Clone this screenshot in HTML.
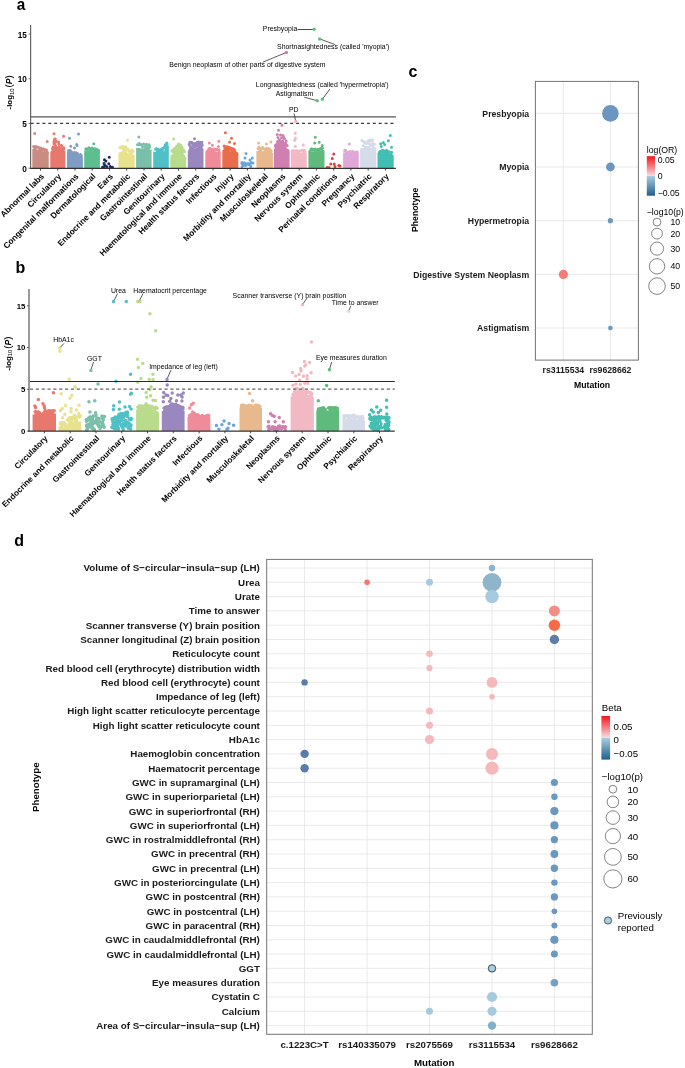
<!DOCTYPE html>
<html><head><meta charset="utf-8"><style>
html,body{margin:0;padding:0;background:#fff;}
svg{display:block;font-family:"Liberation Sans",sans-serif;will-change:transform;}
</style></head><body>
<svg width="685" height="1068" viewBox="0 0 685 1068">
<rect width="685" height="1068" fill="#fff"/>

<text transform="translate(16.7 10.1) scale(0.9 1)" font-size="17" font-weight="bold">a</text>
<path d="M32.3 168.3L32.3 148.9L33.3 148.9L34.3 149L35.3 149.1L36.3 149.2L37.3 149.4L38.3 149.7L39.3 150L40.3 150.5L41.3 150.9L42.3 151.3L43.3 151.4L44.3 151.6L45.3 151.8L46.3 152L47.3 152.2L48.3 152.4L48.7 152.4L48.7 168.3Z" fill="#c98b82"/>
<path d="M39.8 148.7h0M46.4 150.1h0M40.6 149.1h0M36.1 147.4h0M42.3 150.6h0M34.9 146.7h0M34.9 148.4h0M43.2 148.7h0M47.2 152.3h0M42.6 149.9h0M35.8 146.4h0M40.9 148h0M36.2 146.7h0M34 147.1h0M39.7 149.7h0M40.8 149.4h0M40.5 149.3h0M39.9 147.9h0M47.4 152.5h0M45.2 150.7h0M38 147.2h0M37.6 146.9h0M44.2 149.5h0M45.3 149.7h0M46.8 151.7h0M33.6 146.5h0M46.2 150.1h0M34.7 133.4h0M47.2 141.6h0" stroke="#c98b82" stroke-width="3" stroke-linecap="round" fill="none"/>
<path d="M50.3 168.3L50.3 151.7L51.3 151.3L52.3 150.8L53.3 148.7L54.3 143L55.3 142.2L56.3 143.9L57.3 146.7L58.3 144.5L59.3 145.1L60.3 146.4L61.3 148.2L62.3 149.5L63.3 149.8L64.3 150.4L65.3 150.9L65.4 150.9L65.4 168.3Z" fill="#e8776d"/>
<path d="M63.9 147.7h0M52.5 149h0M61.3 145.4h0M52.7 147.9h0M63.7 149h0M53.1 147.1h0M52.9 147.3h0M61.6 145.6h0M58.6 141.9h0M54 143.7h0M53.2 147.5h0M53.1 147.7h0M54.3 140.4h0M63.7 149.3h0M55.4 141.8h0M54.2 140.9h0M62.3 147.9h0M52.9 150.7h0M54.3 140.4h0M61.3 145.4h0M55.3 139h0M52.7 148.7h0M54.6 140.2h0M56.2 141.3h0M63.6 147.8h0M58.8 144h0M53.9 142.3h0M63 149h0M54.7 139h0M54 133.8h0M63.6 136.3h0" stroke="#e8776d" stroke-width="3" stroke-linecap="round" fill="none"/>
<path d="M67 168.3L67 152.4L68 152.5L69 152.6L70 152.7L71 152.8L72 152.9L73 154.8L74 154.8L75 154.8L76 154.8L77 154.8L78 154.8L79 156.5L80 156.5L81 156.5L82 156.5L82.9 156.5L82.9 168.3Z" fill="#7f9dc2"/>
<path d="M78.1 155.1h0M70.9 152.9h0M80 155.4h0M73.9 152.7h0M68.8 152.7h0M71.5 152h0M71.7 152.5h0M76.2 152.9h0M70.6 152h0M69.2 150.6h0M75.7 154.5h0M76.5 152.9h0M80.5 154.5h0M68.5 150.6h0M74.2 152.6h0M70.6 151h0M75.9 152.7h0M73.1 154.7h0M81.3 155.5h0M77.5 153.6h0M70.2 150.5h0M68.5 152.5h0M69.5 138.2h0M78.5 134h0M70.8 146.3h0M76.7 144.5h0M74.5 148h0M77 145.5h0" stroke="#7f9dc2" stroke-width="3" stroke-linecap="round" fill="none"/>
<path d="M84.2 168.3L84.2 150.4L85.2 150.4L86.2 150.4L87.2 150.4L88.2 150.4L89.2 150.4L90.2 150.4L91.2 150.5L92.2 150.6L93.2 150.7L94.2 150.8L95.2 150.9L96.2 150.8L97.2 150.7L98.2 150.6L99.2 150.5L99.9 150.4L99.9 168.3Z" fill="#5dbf8f"/>
<path d="M94.7 151h0M85.8 149.1h0M91.8 149.6h0M89.7 150.7h0M86.5 148.8h0M95.2 150.7h0M95.2 149.8h0M95.9 150.7h0M90.1 149.3h0M97.3 150.3h0M91 149.8h0M96.8 149.2h0M93.7 148.7h0M93.1 149.3h0M86.6 149.1h0M98.5 150.3h0M95 148.8h0M95.1 149.4h0M91.3 150.1h0M86.6 149.5h0M85.9 149h0M91.8 148.1h0M94.6 149.1h0M93.5 150.7h0M88.9 147.7h0M89.4 149.3h0M93.8 143.8h0" stroke="#5dbf8f" stroke-width="3" stroke-linecap="round" fill="none"/>
<path d="M104.5 159.7h0M109.3 157.2h0M105.2 165.5h0M108.8 163.8h0M110.3 166.4h0M112.5 167.2h0M103.7 166.8h0M105.9 160.9h0M107 167.2h0M102.5 167.2h0M111 167.2h0M106.5 166.5h0M104 163.5h0" stroke="#1d2a5e" stroke-width="3" stroke-linecap="round" fill="none"/>
<path d="M118.4 168.3L118.4 152.6L119.4 152.4L120.4 152L121.4 151.5L122.4 151.1L123.4 150.9L124.4 151.1L125.4 151.3L126.4 151.8L127.4 152.6L128.4 153.5L129.4 154.4L130.4 154.8L131.4 154.6L132.4 154.4L133.4 154.5L134.4 154.9L134.7 154.9L134.7 168.3Z" fill="#e8e28e"/>
<path d="M122.5 146.6h0M132.1 152.2h0M125.8 150.8h0M124.2 148.8h0M122.4 147.6h0M130.7 154.3h0M131.8 150.8h0M127.7 148.9h0M121.6 148.3h0M131.2 153.7h0M129.4 154.3h0M123.5 146.4h0M125.9 147.2h0M122.6 147.4h0M128.3 150.2h0M124 150h0M133.2 151h0M120.7 147.1h0M131.7 149.9h0M129.4 151.6h0M123.9 149.6h0M120 147.6h0M125.9 146.7h0M127.5 140.3h0" stroke="#e8e28e" stroke-width="3" stroke-linecap="round" fill="none"/>
<path d="M136.1 168.3L136.1 147.9L137.1 148L138.1 148.1L139.1 148.1L140.1 148.2L141.1 148.3L142.1 148.4L143.1 148.4L144.1 148.5L145.1 148.7L146.1 148.8L147.1 149L148.1 149.2L149.1 149.3L150.1 149.5L151.1 149.6L151.6 149.7L151.6 168.3Z" fill="#79bfa9"/>
<path d="M148.1 144.9h0M139.2 143.5h0M145.5 145.3h0M145.5 146.5h0M147.8 149.1h0M146.2 144.5h0M143.5 144h0M137.5 144.7h0M146.6 144.5h0M140.9 144.4h0M146.4 145.8h0M145.3 147.1h0M142.5 147h0M149.1 144.7h0M149.4 147.5h0M139.1 144.7h0M145.5 148.3h0M142.3 145.6h0M148.7 148h0M149.6 146h0M145.8 144.4h0M146.7 147.8h0M145.7 146.9h0M138.8 137.1h0" stroke="#79bfa9" stroke-width="3" stroke-linecap="round" fill="none"/>
<path d="M153.2 168.3L153.2 151.6L154.2 151.7L155.2 151.9L156.2 152.1L157.2 152.3L158.2 152.5L159.2 152.8L160.2 153.1L161.2 153.1L162.2 152.3L163.2 151.5L164.2 150.5L165.2 148.5L166.2 146.8L167.2 146.3L168.2 145.8L168.8 145.7L168.8 168.3Z" fill="#4fc1c6"/>
<path d="M157.3 151.9h0M167.2 146.4h0M161.5 151.9h0M158.7 152.3h0M165.6 144.6h0M155.6 149.3h0M161.7 151.6h0M160.8 149.6h0M165 145.2h0M164.9 145.6h0M158.9 151.6h0M156.3 148.6h0M161.2 151.7h0M165.4 146.5h0M166.8 144h0M166.8 142.9h0M157.4 149.9h0M158.3 151.1h0M162.8 149.5h0M165.5 145.8h0M158.6 149.6h0M165.5 147.6h0M157.2 151.6h0M167.1 144h0M161.9 149.1h0M161.5 150.5h0M162.4 148.5h0M167.1 144h0M159.7 152h0M161.8 150.1h0M163.5 147.7h0M161.5 150.1h0M166.9 146.2h0M158 149.8h0M156.2 149.3h0" stroke="#4fc1c6" stroke-width="3" stroke-linecap="round" fill="none"/>
<path d="M170.3 168.3L170.3 155.7L171.3 155L172.3 154.1L173.3 153.1L174.3 152.2L175.3 151.2L176.3 149.8L177.3 148.5L178.3 147.6L179.3 147.8L180.3 148L181.3 148.8L182.3 151.2L183.3 153.3L184.3 154.8L185.3 156.3L186.3 157.4L186.3 157.4L186.3 168.3Z" fill="#b9dc8c"/>
<path d="M182.5 151.4h0M178 144.4h0M174.2 150.4h0M184 150.8h0M182 146.9h0M174.2 149h0M180.8 144.9h0M176.4 147.8h0M173 152.1h0M173.2 150.8h0M175 148.2h0M178.7 144.9h0M176.6 146.6h0M178.7 144.1h0M174.3 150.3h0M180.2 145.6h0M183 150.9h0M183.1 149.7h0M181.5 148.5h0M183.7 150.8h0M175.8 150.3h0M174.5 152.3h0M183.5 150.1h0M174.8 150.4h0M175.1 147.9h0M182.8 149.5h0M182.2 147.4h0M177 147.3h0M171.8 151h0M180.7 147.8h0M184.6 151.7h0M178.4 146.4h0M178.3 146h0M174.1 148.7h0M173 149.7h0M179 145.3h0M173.6 139.1h0" stroke="#b9dc8c" stroke-width="3" stroke-linecap="round" fill="none"/>
<path d="M187.8 168.3L187.8 151.4L188.8 149.2L189.8 146.5L190.8 146.3L191.8 146.8L192.8 147.3L193.8 147.9L194.8 148.4L195.8 148L196.8 147.4L197.8 146.8L198.8 146.7L199.8 146.8L200.8 146.8L201.8 146.9L202.8 148L203.5 148.9L203.5 168.3Z" fill="#9a87bf"/>
<path d="M196.6 143.1h0M191.5 142.3h0M200.1 147h0M201.2 142.3h0M189.9 146h0M195.2 146.9h0M193.4 144.3h0M195.9 144.5h0M197 142.6h0M198.3 145.8h0M191.5 143.2h0M198.8 143.1h0M191.7 142.3h0M195.8 143.3h0M200.8 145.6h0M198.3 145.9h0M197.3 143.5h0M197 144.2h0M202 145.7h0M192.5 146.7h0M198.9 145.3h0M199.8 143.2h0M200.8 146.2h0M198.2 145.2h0M199.1 143.1h0M198.6 142.1h0M193.6 144.4h0M189.2 144.2h0M197.5 144.6h0M192.1 146.8h0M197.8 142.9h0M197.7 144.1h0M196.1 144.2h0M202.2 144.8h0M198.3 145.2h0M201.9 142.2h0M197.2 145.5h0M192.5 143.5h0M189.8 142.2h0M194 143.4h0M192.4 146.6h0M196.3 144.6h0M201.8 144.1h0M202.1 144.7h0M194.5 138.7h0" stroke="#9a87bf" stroke-width="3" stroke-linecap="round" fill="none"/>
<path d="M205.3 168.3L205.3 151.4L206.3 151.4L207.3 151.3L208.3 151.3L209.3 151.2L210.3 151.2L211.3 151.4L212.3 151.5L213.3 151.7L214.3 151.8L215.3 151.9L216.3 152L217.3 152.1L218.3 152.2L219.3 152.3L220.3 152.4L220.7 152.4L220.7 168.3Z" fill="#f08c9a"/>
<path d="M217 149.4h0M214.2 151h0M207.2 151.3h0M208.6 149.4h0M208.8 149.5h0M214.4 149.1h0M218.7 150.2h0M213.3 150.2h0M211.3 149h0M215 150.3h0M210.2 150.2h0M210.4 148.6h0M209.7 148.5h0M208.6 150.4h0M211.6 151.2h0M216.2 149.3h0M219.3 152.3h0M207.5 151.1h0M212.1 149.6h0M219.1 149.8h0M213.3 151.6h0M215.9 150.1h0M219.1 151.7h0M214.3 149.2h0M214.6 149.9h0M209.2 148.6h0M209.3 143h0M212.4 145.3h0M218.8 141.2h0M218.4 146.5h0" stroke="#f08c9a" stroke-width="3" stroke-linecap="round" fill="none"/>
<path d="M222.3 168.3L222.3 150.4L223.3 149.8L224.3 149.3L225.3 149.3L226.3 149.3L227.3 149.3L228.3 149.6L229.3 150.5L230.3 151.2L231.3 151.5L232.3 151.8L233.3 152.1L234.3 152.4L235.3 152.9L236.3 153.3L237.3 153.7L238.3 154L238.3 154L238.3 168.3Z" fill="#e96d4a"/>
<path d="M230.7 148.2h0M229.5 149.2h0M229.7 148h0M231.4 149.1h0M234 150.3h0M237 153.6h0M233.4 149.2h0M225.1 149h0M234.1 150.7h0M228.4 146.9h0M232.8 150.1h0M231.5 150h0M233.7 149.2h0M226.9 149.5h0M235.9 152.7h0M224.1 146.1h0M227.2 146.9h0M232 148.6h0M230.9 148.2h0M224.8 147.9h0M231 149.8h0M228.6 147.6h0M226.4 146.7h0M233.6 151.6h0M224.6 146.2h0M234.4 150.9h0M233.9 149.3h0M229.3 147.6h0M234.5 149.9h0M232.4 152h0M228 147.4h0M225.4 132.7h0M231.5 138.3h0M229.6 142h0M234.5 143.5h0" stroke="#e96d4a" stroke-width="3" stroke-linecap="round" fill="none"/>
<path d="M250.8 166.6h0M246.5 163.8h0M242.1 166.4h0M241.9 162.4h0M248.4 164.4h0M250 163.5h0M251.2 162.4h0M243.7 165.3h0M241.9 163.5h0M250.5 165.5h0M244.6 162.7h0M245.6 165.6h0M246 153.5h0M245 158.1h0M252.3 158.1h0M250 160.1h0M243 163h0M248 163.5h0M253 163h0" stroke="#6aa4dc" stroke-width="3" stroke-linecap="round" fill="none"/>
<path d="M256.4 168.3L256.4 150.9L257.4 150.9L258.4 150.9L259.4 150.9L260.4 150.9L261.4 150.9L262.4 151L263.4 151.3L264.4 151.5L265.4 151.5L266.4 151.5L267.4 151.7L268.4 152.1L269.4 152.5L270.4 152.7L271.4 152.7L272.4 152.7L272.9 152.7L272.9 168.3Z" fill="#e8b98c"/>
<path d="M262.8 147.5h0M267.6 149.6h0M270.5 152.6h0M270.4 150h0M268.9 149.1h0M262.1 148.1h0M270.7 152.3h0M261.2 147.9h0M262.8 148.1h0M263.2 148.4h0M260.4 148.7h0M268.8 149.9h0M269.3 150.2h0M260.2 149.7h0M269.9 149.4h0M258 148.5h0M265.3 149.3h0M271.1 150.9h0M268.9 148.6h0M265.3 150.5h0M258.9 147.3h0M267.9 151.5h0M258.9 149h0M259.7 149.6h0M266.7 148.2h0M260.8 149.7h0M264.9 150.3h0M263.2 148.2h0M271.2 151h0M264.6 149.2h0M267.7 150.3h0M270.4 149.9h0M269.2 150.7h0M269.6 151.6h0M269.3 152h0M271 150.9h0M265 150h0M258.6 143.1h0M266.5 143.9h0M271 141.9h0" stroke="#e8b98c" stroke-width="3" stroke-linecap="round" fill="none"/>
<path d="M273.9 168.3L273.9 148.9L274.9 148.7L275.9 148.4L276.9 147.7L277.9 146.8L278.9 146L279.9 145.8L280.9 145.6L281.9 145.4L282.9 145.8L283.9 146.3L284.9 146.8L285.9 147.6L286.9 148.3L287.9 148.9L288.9 149.5L289.6 149.9L289.6 168.3Z" fill="#cf7fb0"/>
<path d="M285.7 144.7h0M280.7 142.1h0M284.9 147.1h0M280.1 142.2h0M277.9 144.1h0M279 146h0M276 145.2h0M276.7 146h0M285.4 143.7h0M276 145.7h0M282.9 145.5h0M275.7 144.9h0M277.6 143.7h0M278.3 145.1h0M283 142.5h0M277.6 143.8h0M277.5 146h0M279.3 143.6h0M285.9 145h0M278.6 145.8h0M287.2 145.5h0M282.4 145.6h0M281.5 142.1h0M275.9 148.4h0M285.7 144.5h0M282.1 143.1h0M278.8 146.3h0M283.8 143h0M275.3 146h0M280.1 144.7h0M284.5 144.7h0M277.3 143.8h0M279.4 142.5h0M286.6 145.7h0M283.5 146.4h0M282 125.2h0M278.5 130.3h0M277.3 134.4h0M278 137.5h0M280.5 135h0M283 135.5h0M281.5 138h0M279.3 140h0M284.5 138.8h0M286.2 141h0M277.5 141.5h0M282.5 141h0M280 142.5h0M285.5 143h0M283.5 137h0" stroke="#cf7fb0" stroke-width="3" stroke-linecap="round" fill="none"/>
<path d="M290.8 168.3L290.8 152.4L291.8 152.4L292.8 152.4L293.8 152.4L294.8 152.4L295.8 152.4L296.8 152.4L297.8 152.4L298.8 152.4L299.8 152.4L300.8 152.4L301.8 152.4L302.8 152.4L303.8 152.4L304.8 152.4L305.8 152.4L306.8 152.4L306.8 168.3Z" fill="#f2b9c4"/>
<path d="M295.7 151.1h0M294.1 151.8h0M292.1 152h0M303.4 152h0M293.2 150.5h0M301.7 150.2h0M298.5 150.9h0M304.9 151.2h0M303.6 150.5h0M302.7 150.8h0M304.4 150.2h0M303.2 150.4h0M299.4 151h0M294.2 152h0M296.3 150.5h0M293.1 150.5h0M298.4 151.6h0M296.9 151.5h0M293.5 150.7h0M298.3 152.6h0M303.2 151.4h0M292.3 150.7h0M295.3 133.2h0M295.5 137.9h0M294.6 140.2h0M295.3 146.6h0M303.3 145.1h0" stroke="#f2b9c4" stroke-width="3" stroke-linecap="round" fill="none"/>
<path d="M308.4 168.3L308.4 151.2L309.4 151.2L310.4 151.2L311.4 151.2L312.4 151.2L313.4 151.2L314.4 151.2L315.4 151.2L316.4 151.2L317.4 151.2L318.4 151.2L319.4 151.2L320.4 150.8L321.4 149.9L322.4 149.6L323.4 150L324.4 150.4L324.5 150.4L324.5 168.3Z" fill="#5fba7d"/>
<path d="M319.3 149.2h0M317.3 149.7h0M309.8 151.5h0M320.5 148.7h0M318 149.3h0M314.8 149.9h0M313.7 149.4h0M315 150.3h0M313.2 149.2h0M319.6 149.4h0M322.5 148.3h0M319.5 149.4h0M320.9 148.3h0M311.6 149h0M318.8 150.4h0M312.1 149.5h0M321 149.1h0M310.9 149.2h0M311.8 149.1h0M315.2 149h0M322.1 147.8h0M316.6 150.2h0M315.3 137.3h0M314.8 143.1h0M319.2 142.3h0M322.3 145.4h0" stroke="#5fba7d" stroke-width="3" stroke-linecap="round" fill="none"/>
<path d="M333.8 153.9h0M332.3 158.4h0M330.8 164.1h0M334.2 163.9h0M338.8 165.5h0M327 167.4h0M335 166.5h0M340 166h0M329 167.4h0" stroke="#d9443a" stroke-width="3" stroke-linecap="round" fill="none"/>
<path d="M343.1 168.3L343.1 152.6L344.1 152.6L345.1 152.6L346.1 152.6L347.1 152.7L348.1 154.1L349.1 154.1L350.1 154.1L351.1 154.1L352.1 154.1L353.1 153.6L354.1 153.6L355.1 153.6L356.1 153.6L357.1 153.6L358.1 153.6L358.8 153.6L358.8 168.3Z" fill="#e0a8d8"/>
<path d="M354.4 153h0M349.5 151.9h0M349.8 151.4h0M349.6 153h0M357.3 152.9h0M353 152.2h0M344.6 150.4h0M348.9 152.8h0M345.8 150.5h0M351.1 153.4h0M355.2 152.2h0M346.5 151.8h0M356.2 152h0M349 152.3h0M346.3 151.6h0M357.3 151.9h0M353.8 153.1h0M347 152.6h0M352.6 151.3h0M345.5 150.2h0M352 153h0M348.7 154h0M349.1 152.2h0M346 152.8h0M346.2 152.4h0M351.5 152.5h0M349.3 143.9h0" stroke="#e0a8d8" stroke-width="3" stroke-linecap="round" fill="none"/>
<path d="M360.1 168.3L360.1 148.4L361.1 148.3L362.1 148.1L363.1 147.9L364.1 147.7L365.1 147.9L366.1 148.1L367.1 148.2L368.1 148.4L369.1 148.3L370.1 148.1L371.1 148L372.1 147.9L373.1 148.3L374.1 148.7L375.1 149.1L376.1 149.4L376.3 149.4L376.3 168.3Z" fill="#d5dbe8"/>
<path d="M369 141h0M373.8 148.7h0M372.5 143.5h0M363.1 145.8h0M365.3 146.8h0M364.7 142.9h0M372.7 140.4h0M368.9 140.2h0M361.8 140.4h0M374.8 148.4h0M370.4 141.1h0M370.5 145h0M366.6 143.4h0M372.3 139.8h0M364.1 141.9h0M363.3 141.3h0M369.1 140.5h0M368.5 141h0M369.1 141.4h0M370.1 140h0M370.5 140.2h0M374.4 144.2h0M367.8 142h0M369.9 144.5h0M371.7 145h0M368 148.6h0M372.8 146.5h0M367 142.1h0M369.1 147.2h0M368.6 143h0M367.3 147.2h0" stroke="#d5dbe8" stroke-width="3" stroke-linecap="round" fill="none"/>
<path d="M377.5 168.3L377.5 153.1L378.5 153.1L379.5 153.1L380.5 153.1L381.5 153.1L382.5 153.1L383.5 153.1L384.5 153.1L385.5 153.1L386.5 153.1L387.5 153.1L388.5 153.5L389.5 154.5L390.5 154.9L391.5 155L392.5 155.1L393.5 155.2L393.7 155.2L393.7 168.3Z" fill="#40bfb2"/>
<path d="M383.2 150.4h0M388.7 153.5h0M388.8 152.3h0M389 151.7h0M386.9 150.4h0M380.5 151.2h0M385.6 151h0M379.5 152h0M386 150.7h0M383 151h0M382 150.4h0M391.2 155.1h0M387.9 152.8h0M384.5 152.5h0M381.8 152.2h0M386.5 152.9h0M380.1 152.4h0M380.5 151.4h0M391.7 152.3h0M382.1 150.8h0M383.2 150.4h0M391 154.4h0M384.2 150.9h0M386.8 150.4h0M379.2 152.9h0M383 151.3h0M391.5 155.2h0M390.3 135.5h0M388.4 140.8h0M383.4 142.4h0M380.7 143.7h0M381.3 146.6h0M391.5 147.3h0M384.6 144.5h0" stroke="#40bfb2" stroke-width="3" stroke-linecap="round" fill="none"/>
<line x1="30.6" y1="24.9" x2="30.6" y2="168.9" stroke="#666" stroke-width="1.2"/>
<line x1="30" y1="168.4" x2="395.9" y2="168.4" stroke="#333" stroke-width="1.1"/>
<line x1="30.6" y1="116.8" x2="395.9" y2="116.8" stroke="#555" stroke-width="1.3"/>
<line x1="30.6" y1="123.4" x2="395.9" y2="123.4" stroke="#3a3a3a" stroke-width="1.2" stroke-dasharray="3 2.9"/>
<line x1="28.5" y1="34.1" x2="30.6" y2="34.1" stroke="#666" stroke-width="0.9"/>
<text x="26.8" y="37.5" font-size="8.2" font-weight="bold" text-anchor="end" fill="#000">15</text>
<line x1="28.5" y1="78.8" x2="30.6" y2="78.8" stroke="#666" stroke-width="0.9"/>
<text x="26.8" y="82.2" font-size="8.2" font-weight="bold" text-anchor="end" fill="#000">10</text>
<line x1="28.5" y1="123.5" x2="30.6" y2="123.5" stroke="#666" stroke-width="0.9"/>
<text x="26.8" y="126.9" font-size="8.2" font-weight="bold" text-anchor="end" fill="#000">5</text>
<line x1="28.5" y1="168.2" x2="30.6" y2="168.2" stroke="#666" stroke-width="0.9"/>
<text x="26.8" y="171.6" font-size="8.2" font-weight="bold" text-anchor="end" fill="#000">0</text>
<text transform="translate(12.1 92.4) rotate(-90)" font-size="7.9" text-anchor="middle"><tspan font-weight="bold">-log</tspan><tspan font-size="5.8" dy="1.6">10</tspan><tspan dy="-1.6" dx="1" font-size="9.8">(</tspan><tspan font-style="italic" font-weight="bold" font-size="8.6">P</tspan><tspan font-size="9.8">)</tspan></text>
<line x1="40.5" y1="168.4" x2="40.5" y2="170.6" stroke="#333" stroke-width="0.9"/>
<text transform="translate(44.5 176.9) rotate(-45)" font-size="8.3" font-weight="bold" text-anchor="end">Abnormal labs</text>
<line x1="57.7" y1="168.4" x2="57.7" y2="170.6" stroke="#333" stroke-width="0.9"/>
<text transform="translate(61.7 176.9) rotate(-45)" font-size="8.3" font-weight="bold" text-anchor="end">Circulatory</text>
<line x1="75" y1="168.4" x2="75" y2="170.6" stroke="#333" stroke-width="0.9"/>
<text transform="translate(79 176.9) rotate(-45)" font-size="8.3" font-weight="bold" text-anchor="end">Congenital malformations</text>
<line x1="92.2" y1="168.4" x2="92.2" y2="170.6" stroke="#333" stroke-width="0.9"/>
<text transform="translate(96.2 176.9) rotate(-45)" font-size="8.3" font-weight="bold" text-anchor="end">Dermatological</text>
<line x1="109.5" y1="168.4" x2="109.5" y2="170.6" stroke="#333" stroke-width="0.9"/>
<text transform="translate(113.5 176.9) rotate(-45)" font-size="8.3" font-weight="bold" text-anchor="end">Ears</text>
<line x1="126.7" y1="168.4" x2="126.7" y2="170.6" stroke="#333" stroke-width="0.9"/>
<text transform="translate(130.7 176.9) rotate(-45)" font-size="8.3" font-weight="bold" text-anchor="end">Endocrine and metabolic</text>
<line x1="144" y1="168.4" x2="144" y2="170.6" stroke="#333" stroke-width="0.9"/>
<text transform="translate(148 176.9) rotate(-45)" font-size="8.3" font-weight="bold" text-anchor="end">Gastrointestinal</text>
<line x1="161.2" y1="168.4" x2="161.2" y2="170.6" stroke="#333" stroke-width="0.9"/>
<text transform="translate(165.2 176.9) rotate(-45)" font-size="8.3" font-weight="bold" text-anchor="end">Genitourinary</text>
<line x1="178.5" y1="168.4" x2="178.5" y2="170.6" stroke="#333" stroke-width="0.9"/>
<text transform="translate(182.5 176.9) rotate(-45)" font-size="8.3" font-weight="bold" text-anchor="end">Haematological and immune</text>
<line x1="195.7" y1="168.4" x2="195.7" y2="170.6" stroke="#333" stroke-width="0.9"/>
<text transform="translate(199.7 176.9) rotate(-45)" font-size="8.3" font-weight="bold" text-anchor="end">Health status factors</text>
<line x1="213" y1="168.4" x2="213" y2="170.6" stroke="#333" stroke-width="0.9"/>
<text transform="translate(217 176.9) rotate(-45)" font-size="8.3" font-weight="bold" text-anchor="end">Infectious</text>
<line x1="230.2" y1="168.4" x2="230.2" y2="170.6" stroke="#333" stroke-width="0.9"/>
<text transform="translate(234.2 176.9) rotate(-45)" font-size="8.3" font-weight="bold" text-anchor="end">Injury</text>
<line x1="247.4" y1="168.4" x2="247.4" y2="170.6" stroke="#333" stroke-width="0.9"/>
<text transform="translate(251.4 176.9) rotate(-45)" font-size="8.3" font-weight="bold" text-anchor="end">Morbidity and mortality</text>
<line x1="264.7" y1="168.4" x2="264.7" y2="170.6" stroke="#333" stroke-width="0.9"/>
<text transform="translate(268.7 176.9) rotate(-45)" font-size="8.3" font-weight="bold" text-anchor="end">Musculoskeletal</text>
<line x1="281.9" y1="168.4" x2="281.9" y2="170.6" stroke="#333" stroke-width="0.9"/>
<text transform="translate(285.9 176.9) rotate(-45)" font-size="8.3" font-weight="bold" text-anchor="end">Neoplasms</text>
<line x1="299.2" y1="168.4" x2="299.2" y2="170.6" stroke="#333" stroke-width="0.9"/>
<text transform="translate(303.2 176.9) rotate(-45)" font-size="8.3" font-weight="bold" text-anchor="end">Nervous system</text>
<line x1="316.4" y1="168.4" x2="316.4" y2="170.6" stroke="#333" stroke-width="0.9"/>
<text transform="translate(320.4 176.9) rotate(-45)" font-size="8.3" font-weight="bold" text-anchor="end">Ophthalmic</text>
<line x1="333.7" y1="168.4" x2="333.7" y2="170.6" stroke="#333" stroke-width="0.9"/>
<text transform="translate(337.7 176.9) rotate(-45)" font-size="8.3" font-weight="bold" text-anchor="end">Perinatal conditions</text>
<line x1="350.9" y1="168.4" x2="350.9" y2="170.6" stroke="#333" stroke-width="0.9"/>
<text transform="translate(354.9 176.9) rotate(-45)" font-size="8.3" font-weight="bold" text-anchor="end">Pregnancy</text>
<line x1="368.2" y1="168.4" x2="368.2" y2="170.6" stroke="#333" stroke-width="0.9"/>
<text transform="translate(372.2 176.9) rotate(-45)" font-size="8.3" font-weight="bold" text-anchor="end">Psychiatric</text>
<line x1="385.4" y1="168.4" x2="385.4" y2="170.6" stroke="#333" stroke-width="0.9"/>
<text transform="translate(389.4 176.9) rotate(-45)" font-size="8.3" font-weight="bold" text-anchor="end">Respiratory</text>
<text x="262.8" y="30.7" font-size="6.9" fill="#000">Presbyopia</text>
<line x1="297.6" y1="29.5" x2="313.5" y2="29.5" stroke="#333" stroke-width="0.9"/>
<text x="277.1" y="48.8" font-size="6.9" fill="#000">Shortnasightedness (called &#39;myopia&#39;)</text>
<line x1="319.7" y1="38.9" x2="335.2" y2="44.6" stroke="#333" stroke-width="0.8"/>
<text x="169.3" y="66.6" font-size="6.9" fill="#000">Benign neoplasm of other parts of digestive system</text>
<line x1="286.4" y1="52.4" x2="262.8" y2="62.2" stroke="#333" stroke-width="0.8"/>
<text x="255.8" y="87.3" font-size="6.9" fill="#000">Longnasightedness (called &#39;hypermetropia&#39;)</text>
<line x1="322.4" y1="99.2" x2="329.9" y2="89" stroke="#333" stroke-width="0.8"/>
<text x="275.7" y="96" font-size="6.9" fill="#000">Astigmatism</text>
<line x1="304.3" y1="97.2" x2="317.2" y2="100.7" stroke="#333" stroke-width="0.8"/>
<text x="288.9" y="112.1" font-size="6.9" fill="#000">PD</text>
<line x1="294" y1="113.5" x2="295.8" y2="121.4" stroke="#333" stroke-width="0.8"/>
<path d="M314.2 29.3h0M319.7 38.9h0M322.4 99.2h0M317.2 100.7h0" stroke="#62c084" stroke-width="3.5" stroke-linecap="round" fill="none"/>
<path d="M286.4 52.4h0" stroke="#d07fb2" stroke-width="3.5" stroke-linecap="round" fill="none"/>
<path d="M295.8 121.4h0" stroke="#f2b3c2" stroke-width="3.5" stroke-linecap="round" fill="none"/>
<text x="15.6" y="272.8" font-size="16" font-weight="bold" fill="#000">b</text>
<path d="M32.6 431.1L32.6 414.6L33.6 414.4L34.6 414.3L35.6 414.1L36.6 414.1L37.6 414.2L38.6 414.4L39.6 414.5L40.6 415.4L41.6 416.1L42.6 416.1L43.6 416.1L44.6 414.6L45.6 413.5L46.6 413.4L47.6 413.3L48.6 413.2L49.6 413.1L50.6 413.1L51.6 413.2L52.6 413.3L53.6 413.4L54.6 413.4L55.6 413.5L56 413.6L56 431.1Z" fill="#e8776d"/>
<path d="M43.7 413.7h0M40.1 414.8h0M52.4 410.8h0M51.2 411.1h0M43.7 413.6h0M52 413.6h0M38.3 413.1h0M38 414.1h0M35.2 411.7h0M48.9 411h0M52.4 413h0M48.6 410.7h0M48.3 413.3h0M43.2 413.5h0M38.7 412.2h0M48.6 410.8h0M37.8 411.9h0M47.6 412.7h0M41.7 414.9h0M52.1 411.9h0M38.8 412.2h0M53 412.2h0M39.8 413.3h0M36 414.4h0M43.1 414.5h0M44.9 411.2h0M46.3 411.2h0M39.2 413.9h0M35.9 411.8h0M49.5 410.8h0M39.8 413h0M37.9 414.2h0M54.2 410.8h0M43.5 415.3h0M42 416.1h0M44.3 412.9h0M45.4 412.3h0M41.5 414.9h0M50 411.4h0M38.4 399.4h0M34.9 406h0M35.5 407.6h0M43 403.8h0M44.2 406h0M44.6 408.2h0M53.4 392.7h0" stroke="#e8776d" stroke-width="3.5" stroke-linecap="round" fill="none"/>
<path d="M58.4 431.1L58.4 427.1L59.4 427L60.4 426.9L61.4 426.9L62.4 426.8L63.4 426.7L64.4 426.7L65.4 426.6L66.4 425.8L67.4 423.8L68.4 422.5L69.4 422.2L70.4 422L71.4 421.8L72.4 421.6L73.4 421.4L74.4 421.2L75.4 421.1L76.4 421.2L77.4 421.2L78.4 421.3L79.4 421.4L80.4 421.5L81.4 421.6L81.4 431.1Z" fill="#e8e28e"/>
<path d="M70 421.3h0M73.6 418.4h0M78.9 417h0M75.5 416.7h0M72.1 417.5h0M68.7 421h0M75.6 419.9h0M64.6 423.5h0M64.4 424h0M69.9 417.6h0M71.8 420h0M71.3 421.2h0M63.5 422.3h0M60.3 423.8h0M68.6 419.1h0M65.2 425.4h0M61.4 426.5h0M71.3 419h0M75.7 416.9h0M62.9 422.8h0M60.8 423h0M72.3 418.7h0M65.2 424h0M61.7 425.8h0M63.4 422.6h0M63.1 424.8h0M76.5 419.9h0M61.2 423.4h0M67.2 419.9h0M79.3 416.8h0M69.7 420.7h0M79.6 417h0M69 420.8h0M60.7 422.7h0M77.7 416.8h0M59.8 348h0M59.9 351.2h0M69.2 379.3h0M75 386.4h0M75.3 387.2h0M60.4 410.4h0M62.2 408.6h0M65.5 405.6h0M61.1 393.8h0M71.8 395.3h0M70 398.3h0M71.1 408.6h0M71.1 411.7h0M76.3 410h0M79 405.3h0M64.8 414.3h0M62.6 417.8h0M78.8 413.5h0M74.4 415.2h0M80.5 416.1h0" stroke="#e8e28e" stroke-width="3.5" stroke-linecap="round" fill="none"/>
<path d="M93.2 423.4h0M93.8 421.3h0M86.6 430h0M100 428.5h0M90.2 424.4h0M96.1 423.1h0M94.4 429.4h0M92.6 424.2h0M104 426.7h0M86.7 426.5h0M97.9 424.4h0M92.3 427.6h0M101.9 426.6h0M102.3 425.5h0M93.2 428.6h0M93 428h0M89.9 425.2h0M89.3 426.7h0M89 424.1h0M89.9 426.1h0M91.6 425.9h0M104.2 427.3h0M101.8 423.3h0M93 421.2h0M98.7 426.2h0M91 422.7h0M89.3 424.5h0M93.2 429.3h0M99.1 425.7h0M92.6 422.7h0M103.2 424.6h0M100 428.4h0M102.6 421.7h0M91.9 425.4h0M87.5 429.3h0M91.9 428.3h0M95.5 421.1h0M93.2 422.8h0M86.7 425h0M96.9 418.1h0M91.7 418.3h0M96 415.2h0M99 419.1h0M99.3 421.5h0M88.7 417.9h0M91.1 420.3h0M93.4 416.1h0M101.9 416.4h0M91.3 417.9h0M89.9 417h0M86.4 421.2h0M96.4 420.4h0M103.9 416.7h0M98.3 423.6h0M89.9 420.1h0M98.2 424h0M101.9 416.5h0M97.6 418.5h0M93.8 416.2h0M87.1 419.6h0M92 418.8h0M91.1 417.2h0M93.4 416.6h0M89 420h0M90.4 417.1h0M92.2 417.9h0M88.7 419.8h0M98.9 420.6h0M98.8 418.5h0M93.2 416h0M87.1 419.7h0M87 420.3h0M96.7 419.2h0M91.9 417.5h0M86.4 419.4h0M102.4 418.2h0M90.8 420h0M89.4 418.6h0M97.3 424h0M92.6 418.1h0M103.3 419.8h0M90.9 370.6h0M98 384h0M88.9 401.8h0M94.8 400.8h0M90 412.1h0M95.6 412.8h0M102 416.1h0M104.5 416.5h0" stroke="#79bfa9" stroke-width="3.5" stroke-linecap="round" fill="none"/>
<path d="M124.1 425.8h0M119.8 423.6h0M117.2 428.8h0M129.1 426.3h0M129.7 424.3h0M114.4 426.8h0M117.8 425.3h0M131 424.9h0M115.5 424.3h0M125.1 420.5h0M111.8 427.3h0M119.5 421.7h0M121.5 426.2h0M122.5 425.9h0M122.8 428.2h0M130.8 426.1h0M118.6 429h0M117.9 427.9h0M125.4 426.1h0M130.7 429h0M114.9 427.3h0M121.4 425.3h0M119 422.2h0M126.5 424.2h0M116.4 424.4h0M118.2 423.4h0M121.9 420.4h0M113 424.5h0M113.8 428.3h0M114 426.8h0M127 423.6h0M115 429.1h0M128.9 423.7h0M116.8 426.4h0M127.4 422.5h0M125.9 420.7h0M125.8 421.6h0M118.3 428h0M128.4 428.3h0M122.9 423.7h0M125.7 425.3h0M128.1 427.7h0M114.2 426.1h0M124.9 420.5h0M115.4 422.7h0M123.3 429.4h0M130.9 424.9h0M125.3 422.8h0M124.2 414.4h0M130.1 424.3h0M112.7 421.8h0M114.1 418.4h0M117.4 420.5h0M131.3 418.6h0M118.3 416.1h0M122.4 415.2h0M119.1 414.3h0M127.5 416.4h0M117.3 418.2h0M123.9 417.3h0M131.1 419.7h0M125.4 414.1h0M127.5 412.2h0M115.2 417.1h0M130.1 419h0M121.4 413.6h0M118.1 416.5h0M122.9 413.7h0M124.1 414h0M116.2 418.7h0M119 414.2h0M112.8 418.5h0M129.3 419.3h0M113.3 418.8h0M121.3 419.4h0M115.7 421.7h0M121.3 414.8h0M127.6 413.2h0M112.9 420.6h0M124.7 415.1h0M117.2 422.3h0M128.8 423h0M120.5 417.9h0M126 412.3h0M112.3 418.7h0M114.1 418.4h0M118.8 417.8h0M117.9 418.9h0M112 418.9h0M130.6 418.5h0M122.1 417.6h0M127.4 415.5h0M113.5 301.5h0M126.3 301.5h0M130.6 374.2h0M116 381.3h0M131 393.7h0M131.5 393.3h0M130.5 394.2h0M113.7 405.8h0M113.4 409.5h0M119.5 402.1h0M119.3 409.3h0M125 406.9h0M129.6 406.5h0M131 409.1h0" stroke="#4fc1c6" stroke-width="3.5" stroke-linecap="round" fill="none"/>
<path d="M136.1 431.1L136.1 409.6L137.1 409.4L138.1 409.1L139.1 408.8L140.1 408.5L141.1 408.5L142.1 408.5L143.1 408.4L144.1 408.4L145.1 408.4L146.1 408.5L147.1 408.6L148.1 408.8L149.1 408.9L150.1 409.1L151.1 409.3L152.1 409.5L153.1 409.7L154.1 409.9L155.1 410.1L156.1 410.6L157.1 411.2L158.1 411.7L159 412.1L159 431.1Z" fill="#b9dc8c"/>
<path d="M145.6 407.7h0M154 409h0M157.2 408.2h0M156.5 408.5h0M151.6 406.6h0M155.7 407.3h0M149.1 406.1h0M145.3 405.9h0M150.7 408.5h0M144.9 406.9h0M144.7 405.7h0M155.6 407.8h0M139.5 406.1h0M152.3 406.7h0M152.4 407.7h0M151.1 406.4h0M139.7 405.7h0M144.6 406.1h0M137.8 407.2h0M145.6 405.8h0M148.3 408.9h0M141.7 408.2h0M144 407.5h0M139.8 408.9h0M146.2 408.7h0M142 406.1h0M151.6 406.5h0M143.1 407.1h0M156.4 408.2h0M141.3 406h0M157.2 408.3h0M150.2 406.7h0M150.4 406.3h0M149.9 408.8h0M154.6 408.5h0M147.6 407h0M139.9 408.1h0M151.3 407.1h0M150.8 406.9h0M145.3 405.6h0M149.5 407.2h0M147.9 405.7h0M150.1 406.9h0M149.4 407.3h0M137.7 301.5h0M140 301.5h0M149.9 313.8h0M155.7 330.8h0M137.5 359.3h0M142.8 363.5h0M138.4 367.5h0M153 374.2h0M140.9 378.5h0M137.8 382.2h0M149.2 379.3h0M153 379.7h0M151.1 386.8h0M149.9 389.6h0M146.1 392.4h0M150.5 395.8h0M146.7 397.3h0M153 400.2h0M155.4 400.4h0M146.1 403.8h0M154.2 411h0" stroke="#b9dc8c" stroke-width="3.5" stroke-linecap="round" fill="none"/>
<path d="M161.8 431.1L161.8 411.1L162.8 410.9L163.8 410.6L164.8 410.4L165.8 410.1L166.8 409.9L167.8 409.6L168.8 409.1L169.8 408.4L170.8 407.8L171.8 407.2L172.8 407.1L173.8 407.1L174.8 407.1L175.8 407.1L176.8 407.6L177.8 408.2L178.8 408.8L179.8 409.4L180.8 409.8L181.8 410.2L182.8 410.5L183.8 410.8L184.6 411.1L184.6 431.1Z" fill="#9a87bf"/>
<path d="M181.7 407.2h0M172.6 407.4h0M177.9 405.6h0M177.9 408.6h0M171.3 407.2h0M165.8 410.4h0M173 404.2h0M179.9 408.1h0M181.8 409.6h0M179.1 407h0M182.9 407.5h0M180.5 408.6h0M168.3 408.7h0M172.3 405.2h0M180.4 406.8h0M168.9 407.6h0M164.8 408.5h0M178.9 406.8h0M168.1 408.8h0M180.2 408.8h0M174.2 406.9h0M179 406h0M170.6 404.9h0M164.1 408h0M180.4 409.2h0M165.7 407.2h0M171 407.2h0M175.5 406.9h0M164.8 410.7h0M167.4 408.2h0M180.6 408.7h0M167.2 408.4h0M171.8 404.1h0M170 405.7h0M175.8 404.3h0M175.2 405.8h0M166.9 406.8h0M177 405.5h0M165.9 407.1h0M181.9 408.6h0M170.4 405.2h0M182.9 409.3h0M177.9 405.7h0M169.5 406.3h0M167 379.4h0M167.2 384.9h0M163.7 392.4h0M166 394.9h0M167.8 395.5h0M172.2 393h0M170.9 398.6h0M169.7 401.3h0M163.5 397.3h0M163.3 401.7h0M176.5 400.7h0M177.8 394.9h0M180.9 394.9h0M183.3 393h0M182.1 397.1h0M181.9 401h0" stroke="#9a87bf" stroke-width="3.5" stroke-linecap="round" fill="none"/>
<path d="M187.5 431.1L187.5 417.1L188.5 417L189.5 416.9L190.5 416.9L191.5 416.8L192.5 416.7L193.5 416.7L194.5 416.6L195.5 416.7L196.5 417L197.5 417.3L198.5 417.6L199.5 417.9L200.5 418L201.5 418L202.5 417.9L203.5 417.9L204.5 417.8L205.5 417.8L206.5 417.7L207.5 417.7L208.5 417.6L209.5 417.6L210.4 417.6L210.4 431.1Z" fill="#f08c9a"/>
<path d="M191.9 415.5h0M197.5 416.8h0M197.1 415.4h0M199.1 417.9h0M195.9 415.9h0M193.7 415.2h0M194.7 416.4h0M194.7 416.3h0M202.4 416.1h0M207.5 415.7h0M203.8 416.5h0M197.9 414.9h0M197.3 415h0M197.8 417.6h0M194.9 415.6h0M202.4 415.6h0M197.2 414.7h0M206.8 415.4h0M197.4 415.1h0M205.3 417.5h0M200.7 416.5h0M191 416.7h0M190.8 414.8h0M196.5 416.1h0M202.3 415.8h0M206.8 417.9h0M189.5 415.7h0M198.3 415.5h0M198.3 415.3h0M202.3 416.6h0M208.3 417.9h0M208.7 415.6h0M205.5 416.6h0M202.9 418.3h0M190.4 415.1h0M197 416h0M193.4 417h0M193.2 414.6h0M193.3 403.3h0M191.4 404.8h0M189.6 407.9h0M192.7 412h0M194.5 413.5h0" stroke="#f08c9a" stroke-width="3.5" stroke-linecap="round" fill="none"/>
<path d="M216.4 425.6h0M221.9 424.8h0M224 421.1h0M229.1 423.6h0M233.6 425.2h0M218.9 429.3h0M227 429.3h0M228 428.3h0" stroke="#6aa4dc" stroke-width="3.5" stroke-linecap="round" fill="none"/>
<path d="M239.5 431.1L239.5 407.9L240.5 407.9L241.5 407.9L242.5 407.9L243.5 407.9L244.5 407.9L245.5 407.9L246.5 407.9L247.5 407.9L248.5 407.9L249.5 407.9L250.5 407.9L251.5 407.9L252.5 407.9L253.5 407.9L254.5 407.9L255.5 407.9L256.5 407.9L257.5 407.9L258.5 407.9L259.5 407.9L260.5 407.9L261.5 407.9L262 407.9L262 431.1Z" fill="#e8b98c"/>
<path d="M243.8 405.9h0M255.4 405.3h0M244.3 406.7h0M253.1 407.1h0M246 407.4h0M255.2 407.2h0M243.4 406.1h0M241.4 407.6h0M259.4 407.7h0M241.5 405.8h0M251.4 406.3h0M243.2 407.3h0M246.9 406.2h0M243.5 406.4h0M243.6 405.3h0M251 405.6h0M256.1 405.5h0M249.1 405.3h0M245.3 406h0M251.9 406h0M257.6 405.3h0M257.5 405.4h0M259.9 406.3h0M248.9 406.6h0M257.8 408.1h0M249.1 405.3h0M244 407.4h0M255.3 406.9h0M244.1 406.3h0M241.6 405.3h0M246.9 408.1h0M253.5 407.5h0M241.9 405.9h0M242.6 405.6h0M243.2 407.8h0M247.4 406.1h0M253.7 407.7h0M249.5 393.5h0M252.6 400.7h0" stroke="#e8b98c" stroke-width="3.5" stroke-linecap="round" fill="none"/>
<path d="M285.2 429.5h0M277.1 429.9h0M275.1 429.3h0M281.4 428.7h0M274.6 429.4h0M276.6 429.2h0M275.8 429.4h0M268.9 429.7h0M269.1 429.2h0M277.9 429.1h0M272 428.6h0M274.7 429.3h0M276.8 429h0M281.6 426.9h0M268.1 426.8h0M285.5 426.7h0M278.7 428.5h0M274.6 427.9h0M274.7 427.2h0M279 427.2h0M273.7 427.5h0M277.3 428h0M268.9 426.2h0M272.5 426.7h0M282.4 426.9h0M283.6 427h0M273.2 427.9h0M269.5 428.5h0M283.1 426.7h0M273.7 428.5h0M282.3 427.4h0M269 427.7h0M268.8 427.2h0M278 428.5h0M279.6 426h0M285 428.2h0M278.5 426.2h0M270.5 413.7h0M272.4 415.6h0M274.3 416.2h0M279.2 417.5h0M268.4 421.8h0M275.1 421.8h0M283.3 421.8h0" stroke="#cf7fb0" stroke-width="3.5" stroke-linecap="round" fill="none"/>
<path d="M290.6 431.1L290.6 396.6L291.6 396.2L292.6 395.9L293.6 395.5L294.6 395.1L295.6 394.7L296.6 394.4L297.6 394.3L298.6 394.1L299.6 393.9L300.6 393.8L301.6 393.6L302.6 393.7L303.6 393.8L304.6 394L305.6 394.2L306.6 394.3L307.6 394.5L308.6 394.8L309.6 395.3L310.6 395.7L311.6 396.2L312.6 396.6L313.6 397.1L313.8 397.1L313.8 431.1Z" fill="#f2b9c4"/>
<path d="M307 392.1h0M305.8 394.5h0M310.6 392.6h0M307.9 392.3h0M307.3 392h0M301.1 391.4h0M294.5 392.5h0M306.9 391.3h0M294.5 394.6h0M305.5 392.3h0M294.4 392.1h0M298.4 394.3h0M303.4 393.7h0M296.4 392.2h0M302.9 393.2h0M294.6 394.8h0M301.6 390.5h0M300.8 391.3h0M305.7 394.2h0M302.1 392.3h0M299.9 393.1h0M294.3 394.2h0M295.5 393.1h0M296.2 392h0M295.4 392.3h0M304 391.9h0M300 392.2h0M309.1 392.5h0M303.9 391.8h0M311.9 393.7h0M306.2 391.4h0M297.4 393.3h0M303.7 391.1h0M293.4 395h0M299.7 392.8h0M300.8 392.2h0M303.4 394h0M310.4 393.5h0M301.9 390.8h0M307.3 391.4h0M298.3 393.7h0M292.9 394.6h0M303.6 392h0M298.8 391.1h0M311.3 395.1h0M302.6 304.8h0M311.5 342h0M292.9 385.2h0M296 384h0M300.3 384.6h0M304.7 383.3h0M307.8 383.3h0M297.2 388.3h0M302.8 388.3h0M305.9 390.8h0M294.7 389h0M299.7 380.2h0M307.1 379h0M292.5 372.4h0M295.7 375.9h0M299.1 374.4h0M303.4 376.2h0M307.1 375.7h0M311.1 372.8h0M301 371h0M300.7 368.5h0M304.7 366h0M305.7 365.1h0M304.4 361.6h0M309.6 362.5h0" stroke="#f2b9c4" stroke-width="3.5" stroke-linecap="round" fill="none"/>
<path d="M316.3 431.1L316.3 410.4L317.3 410.4L318.3 410.4L319.3 410.4L320.3 410.4L321.3 410.4L322.3 410.4L323.3 410.4L324.3 410.4L325.3 410.4L326.3 410.4L327.3 410.4L328.3 410.4L329.3 410.4L330.3 410.4L331.3 410.4L332.3 410.4L333.3 410.4L334.3 410.4L335.3 410.4L336.3 410.4L337.3 410.4L338.3 410.4L339.2 410.4L339.2 431.1Z" fill="#5fba7d"/>
<path d="M333.8 407.8h0M333.4 408h0M321.8 408.8h0M329.9 407.8h0M333 408.9h0M335.7 410.4h0M331.5 408.3h0M336.7 409.5h0M323.6 410.1h0M332.2 408.1h0M322.8 407.8h0M328.5 408h0M323.7 408h0M320.5 408.6h0M323.2 408.1h0M323.3 408.7h0M335.2 407.9h0M334.9 410h0M329.9 408.8h0M332.4 408.8h0M330.9 410.3h0M333.2 408.1h0M318.9 410.4h0M325 409.7h0M322.5 408.5h0M325.2 409.5h0M336.5 408.7h0M329.1 408.3h0M322.4 410.5h0M320 410.5h0M330.9 407.8h0M335.7 407.8h0M329 407.8h0M337.4 408.2h0M335.1 407.8h0M331 407.8h0M318.4 408.9h0M337.3 409.3h0M329.4 369.8h0M326.6 385.5h0M318.3 400.7h0" stroke="#5fba7d" stroke-width="3.5" stroke-linecap="round" fill="none"/>
<path d="M342.4 431.1L342.4 419.6L343.4 419.5L344.4 419.4L345.4 419.3L346.4 419.1L347.4 419L348.4 418.9L349.4 418.8L350.4 418.7L351.4 418.6L352.4 418.6L353.4 418.8L354.4 418.9L355.4 419.1L356.4 419.2L357.4 419.4L358.4 419.5L359.4 419.7L360.4 419.8L361.4 420L362.4 420.2L363.4 420.3L364.4 420.5L365.1 420.6L365.1 431.1Z" fill="#d5dbe8"/>
<path d="M360.7 418.9h0M354.2 415.3h0M354.3 415.5h0M354.3 416h0M353.7 415.5h0M357.8 416.7h0M353.5 415.2h0M353.5 416.7h0M363 418.1h0M346.6 416h0M350.5 417.3h0M362.4 420.4h0M362.6 420.1h0M360.8 419.9h0M344.3 417h0M355.5 417.6h0M356 417.3h0M362.2 416.6h0M354.1 419h0M344.6 415.8h0M361 420h0M344.4 415.8h0M360.2 418.3h0M354.1 416.9h0M358.8 418.8h0M344 415.8h0M359.5 419.9h0M360.3 417.1h0M350.5 415.8h0M344.2 418.3h0M349.1 416.9h0M354.3 415.9h0M357.2 416.8h0M348.5 418.5h0M347.4 415.6h0M348.9 416.4h0M348.8 311.3h0" stroke="#d5dbe8" stroke-width="3.5" stroke-linecap="round" fill="none"/>
<path d="M385.3 424.4h0M374.5 427.1h0M375 426h0M374.9 429h0M373.5 423.6h0M375.8 424.3h0M384.2 427.2h0M385.4 426.1h0M371.4 428.1h0M374.7 423.4h0M378 430h0M377.2 424.4h0M387.8 430h0M377.5 422.5h0M385.4 428.2h0M376.5 428.2h0M377.3 423.8h0M381.5 427.8h0M379.2 428.4h0M370.1 426h0M377.3 421.9h0M387.9 423h0M373.9 429h0M388.8 429.5h0M376.6 429.4h0M372.6 427.7h0M388.5 423.4h0M372.5 427.4h0M387.2 427.8h0M388.6 425.6h0M377.2 422.3h0M375.2 429.5h0M371.3 423.3h0M376.7 421.8h0M375.9 423h0M372.3 426.1h0M380.5 426.2h0M384.9 426h0M388.5 422.5h0M374.2 422.2h0M375.9 428h0M388.1 425.9h0M373 424.4h0M381 423.8h0M385.5 429.8h0M378.9 426.5h0M386.5 425.6h0M373.6 429.6h0M389.1 422.1h0M384.9 417.9h0M370.9 417.5h0M373.3 420h0M374 417h0M374.2 420.4h0M379.7 418.9h0M379 416.8h0M370.1 418h0M370.7 417.8h0M382 417.6h0M379.2 418.8h0M376.1 417.7h0M387.3 419.1h0M378.1 418.4h0M378.9 417.3h0M387.8 417.6h0M388.3 421h0M387.2 417.3h0M379.9 421.3h0M375.5 417.1h0M384.1 417.2h0M381.3 416.8h0M388.5 417.8h0M371.8 419.8h0M376.7 418.6h0M379.6 420.8h0M380 417.4h0M369.9 418.9h0M375.2 418.8h0M382.3 418h0M371.6 418.7h0M379.3 418.9h0M389 417.8h0M378.6 416.6h0M385.6 417.4h0M386.2 420.4h0M374.9 421.1h0M386.6 400.3h0M386.6 407.3h0M376.7 407.1h0M380.7 410.2h0M371.4 410h0M369.6 414.7h0M373.2 412h0M386.8 414h0M378.4 412.6h0" stroke="#40bfb2" stroke-width="3.5" stroke-linecap="round" fill="none"/>
<line x1="29" y1="289.1" x2="29" y2="431.6" stroke="#8c8c8c" stroke-width="1.75"/>
<line x1="28.2" y1="431.1" x2="394.8" y2="431.1" stroke="#333" stroke-width="1.1"/>
<line x1="29.9" y1="381.5" x2="394.8" y2="381.5" stroke="#2a2a2a" stroke-width="1.0"/>
<line x1="29.9" y1="389.2" x2="394.8" y2="389.2" stroke="#666" stroke-width="1.2" stroke-dasharray="3.2 2.65"/>
<line x1="26.9" y1="305.7" x2="29" y2="305.7" stroke="#555" stroke-width="0.9"/>
<text x="25.4" y="308.6" font-size="7.8" font-weight="bold" text-anchor="end" fill="#000">15</text>
<line x1="26.9" y1="347.5" x2="29" y2="347.5" stroke="#555" stroke-width="0.9"/>
<text x="25.4" y="350.4" font-size="7.8" font-weight="bold" text-anchor="end" fill="#000">10</text>
<line x1="26.9" y1="389.3" x2="29" y2="389.3" stroke="#555" stroke-width="0.9"/>
<text x="25.4" y="392.2" font-size="7.8" font-weight="bold" text-anchor="end" fill="#000">5</text>
<line x1="26.9" y1="431.1" x2="29" y2="431.1" stroke="#555" stroke-width="0.9"/>
<text x="25.4" y="434" font-size="7.8" font-weight="bold" text-anchor="end" fill="#000">0</text>
<text transform="translate(10.5 353.5) rotate(-90)" font-size="7.9" text-anchor="middle"><tspan font-weight="bold">-log</tspan><tspan font-size="5.8" dy="1.6">10</tspan><tspan dy="-1.6" dx="1" font-size="9.8">(</tspan><tspan font-style="italic" font-weight="bold" font-size="8.6">P</tspan><tspan font-size="9.8">)</tspan></text>
<line x1="44.4" y1="431.1" x2="44.4" y2="433.3" stroke="#333" stroke-width="0.9"/>
<text transform="translate(48.3 438.9) rotate(-45)" font-size="8.2" font-weight="bold" text-anchor="end">Circulatory</text>
<line x1="70.2" y1="431.1" x2="70.2" y2="433.3" stroke="#333" stroke-width="0.9"/>
<text transform="translate(74.1 438.9) rotate(-45)" font-size="8.2" font-weight="bold" text-anchor="end">Endocrine and metabolic</text>
<line x1="96" y1="431.1" x2="96" y2="433.3" stroke="#333" stroke-width="0.9"/>
<text transform="translate(99.9 438.9) rotate(-45)" font-size="8.2" font-weight="bold" text-anchor="end">Gastrointestinal</text>
<line x1="121.7" y1="431.1" x2="121.7" y2="433.3" stroke="#333" stroke-width="0.9"/>
<text transform="translate(125.6 438.9) rotate(-45)" font-size="8.2" font-weight="bold" text-anchor="end">Genitourinary</text>
<line x1="147.5" y1="431.1" x2="147.5" y2="433.3" stroke="#333" stroke-width="0.9"/>
<text transform="translate(151.4 438.9) rotate(-45)" font-size="8.2" font-weight="bold" text-anchor="end">Haematological and immune</text>
<line x1="173.3" y1="431.1" x2="173.3" y2="433.3" stroke="#333" stroke-width="0.9"/>
<text transform="translate(177.2 438.9) rotate(-45)" font-size="8.2" font-weight="bold" text-anchor="end">Health status factors</text>
<line x1="199.1" y1="431.1" x2="199.1" y2="433.3" stroke="#333" stroke-width="0.9"/>
<text transform="translate(203 438.9) rotate(-45)" font-size="8.2" font-weight="bold" text-anchor="end">Infectious</text>
<line x1="224.9" y1="431.1" x2="224.9" y2="433.3" stroke="#333" stroke-width="0.9"/>
<text transform="translate(228.8 438.9) rotate(-45)" font-size="8.2" font-weight="bold" text-anchor="end">Morbidity and mortality</text>
<line x1="250.6" y1="431.1" x2="250.6" y2="433.3" stroke="#333" stroke-width="0.9"/>
<text transform="translate(254.5 438.9) rotate(-45)" font-size="8.2" font-weight="bold" text-anchor="end">Musculoskeletal</text>
<line x1="276.4" y1="431.1" x2="276.4" y2="433.3" stroke="#333" stroke-width="0.9"/>
<text transform="translate(280.3 438.9) rotate(-45)" font-size="8.2" font-weight="bold" text-anchor="end">Neoplasms</text>
<line x1="302.2" y1="431.1" x2="302.2" y2="433.3" stroke="#333" stroke-width="0.9"/>
<text transform="translate(306.1 438.9) rotate(-45)" font-size="8.2" font-weight="bold" text-anchor="end">Nervous system</text>
<line x1="328" y1="431.1" x2="328" y2="433.3" stroke="#333" stroke-width="0.9"/>
<text transform="translate(331.9 438.9) rotate(-45)" font-size="8.2" font-weight="bold" text-anchor="end">Ophthalmic</text>
<line x1="353.8" y1="431.1" x2="353.8" y2="433.3" stroke="#333" stroke-width="0.9"/>
<text transform="translate(357.7 438.9) rotate(-45)" font-size="8.2" font-weight="bold" text-anchor="end">Psychiatric</text>
<line x1="379.5" y1="431.1" x2="379.5" y2="433.3" stroke="#333" stroke-width="0.9"/>
<text transform="translate(383.4 438.9) rotate(-45)" font-size="8.2" font-weight="bold" text-anchor="end">Respiratory</text>
<text x="110.9" y="292.6" font-size="6.9" fill="#000">Urea</text>
<line x1="117.5" y1="293.5" x2="114.3" y2="300.2" stroke="#333" stroke-width="0.8"/>
<text x="133.3" y="292.6" font-size="6.9" fill="#000">Haematocrit percentage</text>
<line x1="143" y1="293.5" x2="139.7" y2="300.2" stroke="#333" stroke-width="0.8"/>
<text x="53.2" y="342.2" font-size="6.9" fill="#000">HbA1c</text>
<line x1="64" y1="343.4" x2="60.5" y2="347.2" stroke="#333" stroke-width="0.8"/>
<text x="87" y="360.7" font-size="6.9" fill="#000">GGT</text>
<line x1="93.5" y1="362" x2="91.2" y2="369" stroke="#333" stroke-width="0.8"/>
<text x="149.2" y="368.9" font-size="6.9" fill="#000">Impedance of leg (left)</text>
<line x1="171" y1="370" x2="167.5" y2="378" stroke="#333" stroke-width="0.8"/>
<text x="232.6" y="297.5" font-size="6.9" fill="#000">Scanner transverse (Y) brain position</text>
<line x1="307" y1="298" x2="303.3" y2="303.5" stroke="#333" stroke-width="0.8"/>
<text x="331.8" y="305.1" font-size="6.9" fill="#000">Time to answer</text>
<line x1="350.8" y1="305.8" x2="349.2" y2="310" stroke="#333" stroke-width="0.8"/>
<text x="315.9" y="360.1" font-size="6.9" fill="#000">Eye measures duration</text>
<line x1="331.7" y1="361.9" x2="329.8" y2="368.3" stroke="#333" stroke-width="0.8"/>
<text x="408.6" y="76.8" font-size="16" font-weight="bold" fill="#000">c</text>
<line x1="563.4" y1="81.4" x2="563.4" y2="360.1" stroke="#e6e6e6" stroke-width="0.9"/>
<line x1="610.4" y1="81.4" x2="610.4" y2="360.1" stroke="#e6e6e6" stroke-width="0.9"/>
<line x1="535.4" y1="113.4" x2="638.4" y2="113.4" stroke="#e6e6e6" stroke-width="0.9"/>
<line x1="535.4" y1="167" x2="638.4" y2="167" stroke="#e6e6e6" stroke-width="0.9"/>
<line x1="535.4" y1="220.7" x2="638.4" y2="220.7" stroke="#e6e6e6" stroke-width="0.9"/>
<line x1="535.4" y1="274.4" x2="638.4" y2="274.4" stroke="#e6e6e6" stroke-width="0.9"/>
<line x1="535.4" y1="328" x2="638.4" y2="328" stroke="#e6e6e6" stroke-width="0.9"/>
<rect x="535.4" y="81.4" width="103" height="278.7" fill="none" stroke="#737373" stroke-width="1"/>
<text x="529.2" y="116.6" font-size="8.7" font-weight="bold" text-anchor="end" fill="#1a1a1a">Presbyopia</text>
<text x="529.2" y="170.2" font-size="8.7" font-weight="bold" text-anchor="end" fill="#1a1a1a">Myopia</text>
<text x="529.2" y="223.9" font-size="8.7" font-weight="bold" text-anchor="end" fill="#1a1a1a">Hypermetropia</text>
<text x="529.2" y="277.6" font-size="8.7" font-weight="bold" text-anchor="end" fill="#1a1a1a">Digestive System Neoplasm</text>
<text x="529.2" y="331.2" font-size="8.7" font-weight="bold" text-anchor="end" fill="#1a1a1a">Astigmatism</text>
<text x="563.4" y="372.7" font-size="8.7" font-weight="bold" text-anchor="middle" fill="#1a1a1a">rs3115534</text>
<text x="610.4" y="372.7" font-size="8.7" font-weight="bold" text-anchor="middle" fill="#1a1a1a">rs9628662</text>
<text x="592.1" y="387.6" font-size="8.7" font-weight="bold" text-anchor="middle" fill="#000">Mutation</text>
<text transform="translate(417.7 209.8) rotate(-90)" font-size="8.7" font-weight="bold" text-anchor="middle">Phenotype</text>
<circle cx="610.4" cy="113.4" r="8.3" fill="#6b96bd"/>
<circle cx="610.4" cy="167" r="4.4" fill="#6b96bd"/>
<circle cx="610.4" cy="220.7" r="2.6" fill="#6b96bd"/>
<circle cx="563.4" cy="274.4" r="4.6" fill="#f27e76"/>
<circle cx="610.4" cy="328" r="2.3" fill="#6b96bd"/>
<text x="646.8" y="152.7" font-size="8.7" fill="#000">log(OR)</text>
<defs><linearGradient id="gc" x1="0" y1="0" x2="0" y2="1"><stop offset="0" stop-color="#f5161c"/><stop offset="0.5" stop-color="#f6dde1"/><stop offset="0.5" stop-color="#a9cde0"/><stop offset="1" stop-color="#1f5f8b"/></linearGradient></defs>
<rect x="646.8" y="156.2" width="8.2" height="39.5" fill="url(#gc)"/>
<text x="657.7" y="163.2" font-size="8.7" fill="#000">0.05</text>
<text x="657.7" y="179.3" font-size="8.7" fill="#000">0</text>
<text x="657.7" y="195.8" font-size="8.7" fill="#000">&#8722;0.05</text>
<text x="646.8" y="214.5" font-size="8.7" fill="#000">&#8722;log10(p)</text>
<circle cx="657" cy="222.1" r="3.9" fill="none" stroke="#333" stroke-width="0.6"/>
<text x="670.4" y="225.2" font-size="8.7" fill="#000">10</text>
<circle cx="657" cy="233.6" r="5.4" fill="none" stroke="#333" stroke-width="0.6"/>
<text x="670.4" y="236.7" font-size="8.7" fill="#000">20</text>
<circle cx="657" cy="248.6" r="6.6" fill="none" stroke="#333" stroke-width="0.6"/>
<text x="670.4" y="251.7" font-size="8.7" fill="#000">30</text>
<circle cx="657" cy="266.3" r="7.7" fill="none" stroke="#333" stroke-width="0.6"/>
<text x="670.4" y="269.4" font-size="8.7" fill="#000">40</text>
<circle cx="657" cy="286.1" r="8.3" fill="none" stroke="#333" stroke-width="0.6"/>
<text x="670.4" y="289.2" font-size="8.7" fill="#000">50</text>
<text x="14.2" y="546" font-size="16" font-weight="bold" fill="#000">d</text>
<line x1="304.6" y1="559.4" x2="304.6" y2="1034.3" stroke="#e8e8e8" stroke-width="0.9"/>
<line x1="367.1" y1="559.4" x2="367.1" y2="1034.3" stroke="#e8e8e8" stroke-width="0.9"/>
<line x1="429.5" y1="559.4" x2="429.5" y2="1034.3" stroke="#e8e8e8" stroke-width="0.9"/>
<line x1="492" y1="559.4" x2="492" y2="1034.3" stroke="#e8e8e8" stroke-width="0.9"/>
<line x1="554.4" y1="559.4" x2="554.4" y2="1034.3" stroke="#e8e8e8" stroke-width="0.9"/>
<line x1="266.7" y1="568" x2="592.3" y2="568" stroke="#e8e8e8" stroke-width="0.9"/>
<line x1="266.7" y1="582.3" x2="592.3" y2="582.3" stroke="#e8e8e8" stroke-width="0.9"/>
<line x1="266.7" y1="596.6" x2="592.3" y2="596.6" stroke="#e8e8e8" stroke-width="0.9"/>
<line x1="266.7" y1="610.9" x2="592.3" y2="610.9" stroke="#e8e8e8" stroke-width="0.9"/>
<line x1="266.7" y1="625.2" x2="592.3" y2="625.2" stroke="#e8e8e8" stroke-width="0.9"/>
<line x1="266.7" y1="639.5" x2="592.3" y2="639.5" stroke="#e8e8e8" stroke-width="0.9"/>
<line x1="266.7" y1="653.8" x2="592.3" y2="653.8" stroke="#e8e8e8" stroke-width="0.9"/>
<line x1="266.7" y1="668.1" x2="592.3" y2="668.1" stroke="#e8e8e8" stroke-width="0.9"/>
<line x1="266.7" y1="682.4" x2="592.3" y2="682.4" stroke="#e8e8e8" stroke-width="0.9"/>
<line x1="266.7" y1="696.7" x2="592.3" y2="696.7" stroke="#e8e8e8" stroke-width="0.9"/>
<line x1="266.7" y1="711" x2="592.3" y2="711" stroke="#e8e8e8" stroke-width="0.9"/>
<line x1="266.7" y1="725.3" x2="592.3" y2="725.3" stroke="#e8e8e8" stroke-width="0.9"/>
<line x1="266.7" y1="739.6" x2="592.3" y2="739.6" stroke="#e8e8e8" stroke-width="0.9"/>
<line x1="266.7" y1="753.9" x2="592.3" y2="753.9" stroke="#e8e8e8" stroke-width="0.9"/>
<line x1="266.7" y1="768.2" x2="592.3" y2="768.2" stroke="#e8e8e8" stroke-width="0.9"/>
<line x1="266.7" y1="782.5" x2="592.3" y2="782.5" stroke="#e8e8e8" stroke-width="0.9"/>
<line x1="266.7" y1="796.8" x2="592.3" y2="796.8" stroke="#e8e8e8" stroke-width="0.9"/>
<line x1="266.7" y1="811.1" x2="592.3" y2="811.1" stroke="#e8e8e8" stroke-width="0.9"/>
<line x1="266.7" y1="825.4" x2="592.3" y2="825.4" stroke="#e8e8e8" stroke-width="0.9"/>
<line x1="266.7" y1="839.7" x2="592.3" y2="839.7" stroke="#e8e8e8" stroke-width="0.9"/>
<line x1="266.7" y1="854" x2="592.3" y2="854" stroke="#e8e8e8" stroke-width="0.9"/>
<line x1="266.7" y1="868.3" x2="592.3" y2="868.3" stroke="#e8e8e8" stroke-width="0.9"/>
<line x1="266.7" y1="882.6" x2="592.3" y2="882.6" stroke="#e8e8e8" stroke-width="0.9"/>
<line x1="266.7" y1="896.9" x2="592.3" y2="896.9" stroke="#e8e8e8" stroke-width="0.9"/>
<line x1="266.7" y1="911.2" x2="592.3" y2="911.2" stroke="#e8e8e8" stroke-width="0.9"/>
<line x1="266.7" y1="925.5" x2="592.3" y2="925.5" stroke="#e8e8e8" stroke-width="0.9"/>
<line x1="266.7" y1="939.8" x2="592.3" y2="939.8" stroke="#e8e8e8" stroke-width="0.9"/>
<line x1="266.7" y1="954.1" x2="592.3" y2="954.1" stroke="#e8e8e8" stroke-width="0.9"/>
<line x1="266.7" y1="968.4" x2="592.3" y2="968.4" stroke="#e8e8e8" stroke-width="0.9"/>
<line x1="266.7" y1="982.7" x2="592.3" y2="982.7" stroke="#e8e8e8" stroke-width="0.9"/>
<line x1="266.7" y1="997" x2="592.3" y2="997" stroke="#e8e8e8" stroke-width="0.9"/>
<line x1="266.7" y1="1011.3" x2="592.3" y2="1011.3" stroke="#e8e8e8" stroke-width="0.9"/>
<line x1="266.7" y1="1025.6" x2="592.3" y2="1025.6" stroke="#e8e8e8" stroke-width="0.9"/>
<rect x="266.7" y="559.4" width="325.6" height="474.9" fill="none" stroke="#737373" stroke-width="1"/>
<text x="259.9" y="571.4" font-size="9.8" font-weight="bold" text-anchor="end" fill="#1a1a1a">Volume of S&#8722;circular&#8722;insula&#8722;sup (LH)</text>
<text x="259.9" y="585.7" font-size="9.8" font-weight="bold" text-anchor="end" fill="#1a1a1a">Urea</text>
<text x="259.9" y="600" font-size="9.8" font-weight="bold" text-anchor="end" fill="#1a1a1a">Urate</text>
<text x="259.9" y="614.3" font-size="9.8" font-weight="bold" text-anchor="end" fill="#1a1a1a">Time to answer</text>
<text x="259.9" y="628.6" font-size="9.8" font-weight="bold" text-anchor="end" fill="#1a1a1a">Scanner transverse (Y) brain position</text>
<text x="259.9" y="642.9" font-size="9.8" font-weight="bold" text-anchor="end" fill="#1a1a1a">Scanner longitudinal (Z) brain position</text>
<text x="259.9" y="657.2" font-size="9.8" font-weight="bold" text-anchor="end" fill="#1a1a1a">Reticulocyte count</text>
<text x="259.9" y="671.5" font-size="9.8" font-weight="bold" text-anchor="end" fill="#1a1a1a">Red blood cell (erythrocyte) distribution width</text>
<text x="259.9" y="685.8" font-size="9.8" font-weight="bold" text-anchor="end" fill="#1a1a1a">Red blood cell (erythrocyte) count</text>
<text x="259.9" y="700.1" font-size="9.8" font-weight="bold" text-anchor="end" fill="#1a1a1a">Impedance of leg (left)</text>
<text x="259.9" y="714.4" font-size="9.8" font-weight="bold" text-anchor="end" fill="#1a1a1a">High light scatter reticulocyte percentage</text>
<text x="259.9" y="728.7" font-size="9.8" font-weight="bold" text-anchor="end" fill="#1a1a1a">High light scatter reticulocyte count</text>
<text x="259.9" y="743" font-size="9.8" font-weight="bold" text-anchor="end" fill="#1a1a1a">HbA1c</text>
<text x="259.9" y="757.3" font-size="9.8" font-weight="bold" text-anchor="end" fill="#1a1a1a">Haemoglobin concentration</text>
<text x="259.9" y="771.6" font-size="9.8" font-weight="bold" text-anchor="end" fill="#1a1a1a">Haematocrit percentage</text>
<text x="259.9" y="785.9" font-size="9.8" font-weight="bold" text-anchor="end" fill="#1a1a1a">GWC in supramarginal (LH)</text>
<text x="259.9" y="800.2" font-size="9.8" font-weight="bold" text-anchor="end" fill="#1a1a1a">GWC in superiorparietal (LH)</text>
<text x="259.9" y="814.5" font-size="9.8" font-weight="bold" text-anchor="end" fill="#1a1a1a">GWC in superiorfrontal (RH)</text>
<text x="259.9" y="828.8" font-size="9.8" font-weight="bold" text-anchor="end" fill="#1a1a1a">GWC in superiorfrontal (LH)</text>
<text x="259.9" y="843.1" font-size="9.8" font-weight="bold" text-anchor="end" fill="#1a1a1a">GWC in rostralmiddlefrontal (RH)</text>
<text x="259.9" y="857.4" font-size="9.8" font-weight="bold" text-anchor="end" fill="#1a1a1a">GWC in precentral (RH)</text>
<text x="259.9" y="871.7" font-size="9.8" font-weight="bold" text-anchor="end" fill="#1a1a1a">GWC in precentral (LH)</text>
<text x="259.9" y="886" font-size="9.8" font-weight="bold" text-anchor="end" fill="#1a1a1a">GWC in posteriorcingulate (LH)</text>
<text x="259.9" y="900.3" font-size="9.8" font-weight="bold" text-anchor="end" fill="#1a1a1a">GWC in postcentral (RH)</text>
<text x="259.9" y="914.6" font-size="9.8" font-weight="bold" text-anchor="end" fill="#1a1a1a">GWC in postcentral (LH)</text>
<text x="259.9" y="928.9" font-size="9.8" font-weight="bold" text-anchor="end" fill="#1a1a1a">GWC in paracentral (RH)</text>
<text x="259.9" y="943.2" font-size="9.8" font-weight="bold" text-anchor="end" fill="#1a1a1a">GWC in caudalmiddlefrontal (RH)</text>
<text x="259.9" y="957.5" font-size="9.8" font-weight="bold" text-anchor="end" fill="#1a1a1a">GWC in caudalmiddlefrontal (LH)</text>
<text x="259.9" y="971.8" font-size="9.8" font-weight="bold" text-anchor="end" fill="#1a1a1a">GGT</text>
<text x="259.9" y="986.1" font-size="9.8" font-weight="bold" text-anchor="end" fill="#1a1a1a">Eye measures duration</text>
<text x="259.9" y="1000.4" font-size="9.8" font-weight="bold" text-anchor="end" fill="#1a1a1a">Cystatin C</text>
<text x="259.9" y="1014.7" font-size="9.8" font-weight="bold" text-anchor="end" fill="#1a1a1a">Calcium</text>
<text x="259.9" y="1029" font-size="9.8" font-weight="bold" text-anchor="end" fill="#1a1a1a">Area of S&#8722;circular&#8722;insula&#8722;sup (LH)</text>
<text x="304.6" y="1048.3" font-size="9.7" font-weight="bold" text-anchor="middle" fill="#1a1a1a">c.1223C&gt;T</text>
<text x="367.1" y="1048.3" font-size="9.7" font-weight="bold" text-anchor="middle" fill="#1a1a1a">rs140335079</text>
<text x="429.5" y="1048.3" font-size="9.7" font-weight="bold" text-anchor="middle" fill="#1a1a1a">rs2075569</text>
<text x="492" y="1048.3" font-size="9.7" font-weight="bold" text-anchor="middle" fill="#1a1a1a">rs3115534</text>
<text x="554.4" y="1048.3" font-size="9.7" font-weight="bold" text-anchor="middle" fill="#1a1a1a">rs9628662</text>
<text x="434.2" y="1066.2" font-size="9.7" font-weight="bold" text-anchor="middle" fill="#000">Mutation</text>
<text transform="translate(39.4 787.2) rotate(-90)" font-size="9.7" font-weight="bold" text-anchor="middle">Phenotype</text>
<circle cx="492" cy="568" r="3.2" fill="#8db4cc"/>
<circle cx="367.1" cy="582.3" r="2.8" fill="#f07a72"/>
<circle cx="429.5" cy="582.3" r="3.5" fill="#a7cbde"/>
<circle cx="492" cy="582.3" r="9.4" fill="#8fb5cb"/>
<circle cx="492" cy="596.6" r="6.7" fill="#a7cbde"/>
<circle cx="554.4" cy="610.9" r="5.5" fill="#f28d87"/>
<circle cx="554.4" cy="625.2" r="5.7" fill="#f76a45"/>
<circle cx="554.4" cy="639.5" r="4.7" fill="#5e7ea6"/>
<circle cx="429.5" cy="653.8" r="3.3" fill="#f5b9bc"/>
<circle cx="429.5" cy="668.1" r="3.1" fill="#f5b9bc"/>
<circle cx="304.6" cy="682.4" r="3.2" fill="#5b7ca6"/>
<circle cx="492" cy="682.4" r="5.4" fill="#f5b9bc"/>
<circle cx="492" cy="696.7" r="2.8" fill="#f5b9bc"/>
<circle cx="429.5" cy="711" r="3.5" fill="#f5b9bc"/>
<circle cx="429.5" cy="725.3" r="3.5" fill="#f5b9bc"/>
<circle cx="429.5" cy="739.6" r="4.6" fill="#f5b9bc"/>
<circle cx="304.6" cy="753.9" r="4.2" fill="#5b7ca6"/>
<circle cx="492" cy="753.9" r="6" fill="#f5b9bc"/>
<circle cx="304.6" cy="768.2" r="4.2" fill="#5b7ca6"/>
<circle cx="492" cy="768.2" r="6.6" fill="#f5b9bc"/>
<circle cx="554.4" cy="782.5" r="3.6" fill="#6b98bf"/>
<circle cx="554.4" cy="796.8" r="3.2" fill="#6b98bf"/>
<circle cx="554.4" cy="811.1" r="4.1" fill="#6b98bf"/>
<circle cx="554.4" cy="825.4" r="4.1" fill="#6b98bf"/>
<circle cx="554.4" cy="839.7" r="3.6" fill="#6b98bf"/>
<circle cx="554.4" cy="854" r="3.9" fill="#6b98bf"/>
<circle cx="554.4" cy="868.3" r="3.7" fill="#6b98bf"/>
<circle cx="554.4" cy="882.6" r="3.2" fill="#6b98bf"/>
<circle cx="554.4" cy="896.9" r="3.6" fill="#6b98bf"/>
<circle cx="554.4" cy="911.2" r="2.8" fill="#6b98bf"/>
<circle cx="554.4" cy="925.5" r="3" fill="#6b98bf"/>
<circle cx="554.4" cy="939.8" r="4.1" fill="#6b98bf"/>
<circle cx="554.4" cy="954.1" r="3.5" fill="#6b98bf"/>
<circle cx="554.4" cy="982.7" r="3.8" fill="#73a0c2"/>
<circle cx="492" cy="997" r="5.1" fill="#a7cbde"/>
<circle cx="429.5" cy="1011.3" r="3.5" fill="#a7cbde"/>
<circle cx="492" cy="1011.3" r="4.6" fill="#a7cbde"/>
<circle cx="492" cy="1025.6" r="4.2" fill="#82b0cb"/>
<circle cx="492" cy="968.4" r="3.7" fill="#a8cfe1" stroke="#333" stroke-width="0.9"/>
<text x="601.8" y="711.1" font-size="9.7" fill="#000">Beta</text>
<rect x="601.4" y="716" width="8.7" height="43.6" fill="url(#gc)"/>
<text x="613.6" y="729.9" font-size="9.7" fill="#000">0.05</text>
<text x="613.6" y="743.3" font-size="9.7" fill="#000">0</text>
<text x="613.6" y="756.9" font-size="9.7" fill="#000">&#8722;0.05</text>
<text x="601.8" y="780.4" font-size="9.7" fill="#000">&#8722;log10(p)</text>
<circle cx="612.9" cy="789.2" r="3.9" fill="none" stroke="#333" stroke-width="0.6"/>
<text x="627.4" y="792.6" font-size="9.7" fill="#000">10</text>
<circle cx="612.9" cy="801.9" r="5.8" fill="none" stroke="#333" stroke-width="0.6"/>
<text x="627.4" y="805.3" font-size="9.7" fill="#000">20</text>
<circle cx="612.9" cy="817.6" r="6.8" fill="none" stroke="#333" stroke-width="0.6"/>
<text x="627.4" y="821" font-size="9.7" fill="#000">30</text>
<circle cx="612.9" cy="836.1" r="7.6" fill="none" stroke="#333" stroke-width="0.6"/>
<text x="627.4" y="839.5" font-size="9.7" fill="#000">40</text>
<circle cx="612.9" cy="856.9" r="8.4" fill="none" stroke="#333" stroke-width="0.6"/>
<text x="627.4" y="860.3" font-size="9.7" fill="#000">50</text>
<circle cx="612.9" cy="878.9" r="9.1" fill="none" stroke="#333" stroke-width="0.6"/>
<text x="627.4" y="882.3" font-size="9.7" fill="#000">60</text>
<circle cx="608" cy="920.5" r="3.6" fill="#a8cfe1" stroke="#333" stroke-width="0.8"/>
<text x="617.7" y="919.3" font-size="9.7" fill="#000">Previously</text>
<text x="617.7" y="930.6" font-size="9.7" fill="#000">reported</text>
</svg></body></html>
